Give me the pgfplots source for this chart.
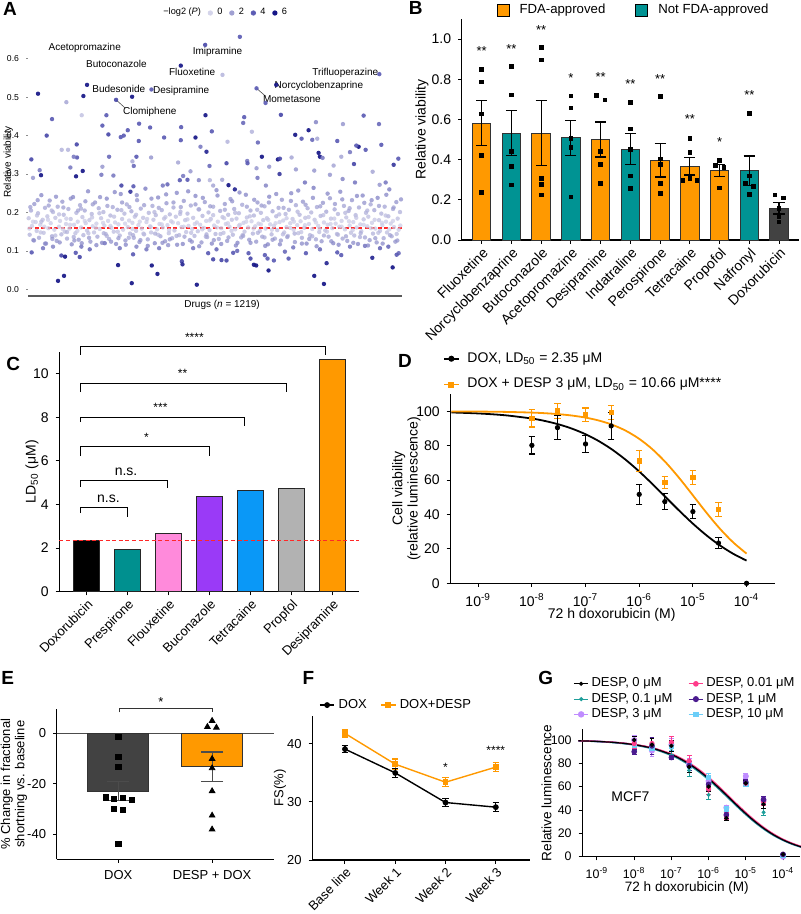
\documentclass[border=0pt]{standalone}
\usepackage{fontspec}
\setmainfont{Liberation Sans}
\usepackage{pgfplots}
\usepackage{pgfplotstable}
\pgfplotsset{compat=1.18}
\newcommand{\fs}[1]{\fontsize{#1}{#1}\selectfont}
\definecolor{fdaor}{HTML}{FF9900}
\definecolor{tealb}{HTML}{009393}
\definecolor{dgray}{HTML}{424242}
\definecolor{cpink}{HTML}{FF8ADB}
\definecolor{cpurple}{HTML}{9A3AF7}
\definecolor{cblue}{HTML}{0A98F7}
\definecolor{cgray}{HTML}{B2B2B2}
\definecolor{cteal}{HTML}{00908F}
\definecolor{gteal}{HTML}{1E9E9A}
\definecolor{gpink}{HTML}{FF3C8A}
\definecolor{gpurple}{HTML}{4B1B8F}
\definecolor{glav}{HTML}{BF8CFF}
\definecolor{gblue}{HTML}{6CCEF8}
\definecolor{pv0}{RGB}{212,212,234}
\definecolor{pv2}{RGB}{160,160,210}
\definecolor{pv4}{RGB}{92,92,180}
\definecolor{pv6}{RGB}{22,22,135}
\definecolor{redl}{RGB}{255,40,40}

\pgfplotstableread{
X v c
87 0.185 1
90 0.142 1.5
94 0.205 2
97 0.165 0.5
101 0.128 2.5
104 0.222 2.5
108 0.175 0.5
111 0.152 1
115 0.198 1.5
118 0.134 2
122 0.168 0.5
125 0.245 3
129 0.181 1
132 0.147 1
136 0.212 2
139 0.119 3
143 0.190 1
146 0.159 0.5
150 0.231 2.5
153 0.172 0.5
157 0.138 2
160 0.201 1.5
164 0.155 0.5
167 0.186 1
171 0.126 2.5
174 0.215 2
178 0.163 0.5
181 0.178 0.5
185 0.143 1.5
188 0.228 2.5
192 0.194 1.5
195 0.150 1
199 0.170 0.5
202 0.132 2
206 0.209 2
209 0.158 0.5
213 0.183 1
216 0.117 3
220 0.240 3
223 0.168 0.5
227 0.146 1
230 0.199 1.5
234 0.176 0.5
237 0.129 2.5
241 0.219 2
244 0.161 0.5
248 0.188 1
251 0.141 1.5
255 0.205 2
258 0.172 0.5
262 0.153 1
265 0.255 3
269 0.180 1
272 0.124 2.5
276 0.196 1.5
279 0.164 0.5
283 0.148 1
286 0.226 2.5
290 0.171 0.5
293 0.137 2
297 0.211 2
300 0.157 0.5
304 0.185 1
307 0.121 3
311 0.201 1.5
314 0.166 0.5
318 0.144 1.5
321 0.236 3
325 0.178 0.5
328 0.131 2
332 0.192 1.5
335 0.160 0.5
339 0.214 2
342 0.150 1
346 0.174 0.5
349 0.118 3
353 0.207 2
356 0.169 0.5
360 0.140 1.5
363 0.248 3
367 0.183 1
370 0.155 0.5
374 0.197 1.5
377 0.127 2.5
381 0.221 2
384 0.162 0.5
388 0.179 0.5
391 0.145 1.5
395 0.203 2
398 0.173 0.5
402 0.134 2
405 0.189 1
409 0.152 1
412 0.232 2.5
416 0.167 0.5
419 0.123 2.5
423 0.210 2
426 0.158 0.5
430 0.186 1
433 0.143 1.5
437 0.262 3.5
440 0.175 0.5
444 0.130 2
447 0.199 1.5
451 0.164 0.5
454 0.148 1
458 0.217 2
461 0.181 1
465 0.120 3
468 0.193 1.5
472 0.156 0.5
475 0.239 3
479 0.170 0.5
482 0.138 2
486 0.206 2
489 0.161 0.5
493 0.184 1
496 0.125 2.5
500 0.224 2.5
503 0.167 0.5
507 0.146 1
510 0.195 1.5
514 0.177 0.5
517 0.133 2
521 0.213 2
524 0.153 1
528 0.189 1
531 0.251 3
535 0.172 0.5
538 0.141 1.5
542 0.202 1.5
545 0.162 0.5
549 0.118 3
552 0.230 2.5
556 0.180 1
559 0.149 1
563 0.197 1.5
566 0.165 0.5
570 0.128 2.5
573 0.218 2
577 0.157 0.5
580 0.186 1
584 0.139 1.5
587 0.243 3
591 0.174 0.5
594 0.151 1
598 0.208 2
601 0.168 0.5
605 0.122 2.5
608 0.191 1.5
612 0.160 0.5
615 0.227 2.5
619 0.178 0.5
622 0.136 2
626 0.200 1.5
629 0.154 1
633 0.183 1
636 0.119 3
640 0.215 2
643 0.166 0.5
647 0.144 1.5
650 0.258 3
654 0.176 0.5
657 0.131 2
661 0.204 2
664 0.159 0.5
668 0.188 1
671 0.147 1
675 0.222 2.5
678 0.170 0.5
682 0.126 2.5
685 0.194 1.5
689 0.163 0.5
692 0.235 2.5
696 0.181 1
699 0.142 1.5
703 0.209 2
706 0.156 0.5
710 0.184 1
713 0.121 3
717 0.198 1.5
720 0.168 0.5
724 0.135 2
727 0.220 2
731 0.173 0.5
734 0.150 1
738 0.246 3
741 0.187 1
745 0.161 0.5
748 0.129 2.5
752 0.205 2
755 0.177 0.5
759 0.145 1.5
762 0.192 1.5
766 0.164 0.5
769 0.124 2.5
773 0.226 2.5
776 0.171 0.5
780 0.152 1
783 0.199 1.5
787 0.137 2
790 0.180 1
794 0.216 2
797 0.158 0.5
801 0.185 1
804 0.117 3
808 0.241 3
811 0.169 0.5
815 0.143 1.5
818 0.203 2
822 0.165 0.5
825 0.132 2
829 0.190 1.5
832 0.154 1
836 0.212 2
839 0.175 0.5
843 0.127 2.5
846 0.233 2.5
850 0.179 0.5
853 0.148 1
857 0.196 1.5
860 0.162 0.5
864 0.139 1.5
867 0.207 2
871 0.172 0.5
874 0.250 3
878 0.183 1
881 0.155 0.5
885 0.123 2.5
888 0.219 2
892 0.167 0.5
895 0.146 1
899 0.194 1.5
902 0.177 0.5
906 0.134 2
909 0.228 2.5
913 0.160 0.5
916 0.186 1
920 0.119 3
923 0.211 2
927 0.170 0.5
930 0.141 1.5
934 0.200 1.5
937 0.157 0.5
941 0.264 3.5
944 0.181 1
948 0.130 2
951 0.214 2
955 0.165 0.5
958 0.149 1
962 0.191 1.5
965 0.125 2.5
969 0.225 2.5
972 0.174 0.5
976 0.153 1
979 0.202 2
983 0.168 0.5
986 0.137 2
990 0.237 2.5
993 0.184 1
997 0.159 0.5
1000 0.120 3
1004 0.208 2
1007 0.171 0.5
1011 0.144 1.5
1014 0.196 1.5
1018 0.163 0.5
1021 0.254 3
1025 0.178 0.5
1028 0.132 2
1032 0.217 2
1035 0.156 0.5
1039 0.187 1
1042 0.126 2.5
1046 0.204 2
1049 0.166 0.5
1053 0.147 1
1056 0.232 2.5
1060 0.175 0.5
1063 0.140 1.5
1067 0.193 1.5
1070 0.161 0.5
1074 0.118 3
1077 0.213 2
1081 0.169 0.5
1084 0.151 1
1088 0.244 3
1091 0.182 1
1095 0.135 2
1098 0.199 1.5
1102 0.164 0.5
1105 0.189 1
1109 0.128 2.5
1112 0.221 2
1116 0.173 0.5
1119 0.145 1.5
1123 0.206 2
1126 0.158 0.5
1130 0.122 2.5
1133 0.238 3
1137 0.180 1
1140 0.152 1
1144 0.197 1.5
1147 0.167 0.5
1151 0.133 2
1154 0.215 2
1158 0.176 0.5
1161 0.148 1
1165 0.190 1.5
1168 0.260 3.5
1172 0.171 0.5
1175 0.138 2
1179 0.209 2
1182 0.162 0.5
1186 0.124 2.5
1189 0.227 2.5
1193 0.184 1
1196 0.155 0.5
1200 0.201 1.5
89 0.158 0.3
100 0.176 0.3
112 0.192 1
123 0.148 0.8
134 0.163 0.3
145 0.181 0.5
156 0.205 1.5
167 0.140 1.2
178 0.195 1
189 0.157 0.3
200 0.184 0.5
211 0.168 0.3
222 0.136 1.8
233 0.152 0.5
244 0.210 1.8
255 0.178 0.3
266 0.146 1
277 0.187 0.8
288 0.160 0.3
299 0.198 1.2
310 0.173 0.3
321 0.139 1.6
332 0.165 0.3
343 0.189 1
354 0.150 0.8
365 0.206 1.6
376 0.171 0.3
387 0.134 1.8
398 0.157 0.3
409 0.194 1.2
420 0.176 0.3
431 0.145 1
442 0.183 0.6
453 0.162 0.3
464 0.201 1.4
475 0.142 1.2
486 0.169 0.3
497 0.188 0.8
508 0.154 0.5
519 0.174 0.3
530 0.139 1.6
541 0.196 1.2
552 0.163 0.3
563 0.182 0.6
574 0.147 1
585 0.170 0.3
596 0.208 1.6
607 0.156 0.4
618 0.137 1.6
629 0.179 0.3
640 0.193 1
651 0.161 0.3
662 0.144 1.2
673 0.185 0.6
684 0.172 0.3
695 0.152 0.6
706 0.199 1.3
717 0.165 0.3
728 0.141 1.4
739 0.176 0.3
750 0.190 1
761 0.158 0.3
772 0.207 1.6
783 0.169 0.3
794 0.135 1.8
805 0.181 0.6
816 0.155 0.4
827 0.172 0.3
838 0.195 1.2
849 0.143 1.2
860 0.185 0.6
871 0.160 0.3
882 0.176 0.3
893 0.202 1.4
904 0.149 0.8
915 0.167 0.3
926 0.188 0.8
937 0.138 1.6
948 0.174 0.3
959 0.157 0.3
970 0.193 1.1
981 0.150 0.7
992 0.170 0.3
1003 0.184 0.6
1014 0.142 1.3
1025 0.163 0.3
1036 0.199 1.3
1047 0.177 0.3
1058 0.154 0.5
1069 0.186 0.8
1080 0.136 1.7
1091 0.168 0.3
1102 0.205 1.5
1113 0.159 0.3
1124 0.181 0.6
1135 0.147 1
1146 0.173 0.3
1157 0.192 1
1168 0.156 0.4
1179 0.178 0.3
1190 0.144 1.2
1201 0.166 0.3
92 0.214 2.2
103 0.127 2.6
114 0.232 2.6
125 0.176 1.2
136 0.119 2.8
147 0.218 2.2
158 0.131 2.4
169 0.241 2.8
180 0.122 2.7
191 0.213 2.2
202 0.149 1.4
213 0.236 2.7
224 0.127 2.5
235 0.205 2
246 0.120 2.8
257 0.229 2.6
268 0.134 2.3
279 0.221 2.3
290 0.115 3
301 0.240 2.8
312 0.146 1.6
323 0.217 2.2
334 0.124 2.6
345 0.253 3
356 0.133 2.3
367 0.226 2.5
378 0.116 3
389 0.214 2.2
400 0.141 1.8
411 0.245 2.9
422 0.128 2.5
433 0.219 2.3
444 0.113 3
455 0.236 2.8
466 0.145 1.7
477 0.212 2.1
488 0.121 2.7
499 0.247 2.9
510 0.130 2.4
521 0.226 2.5
532 0.116 3
543 0.214 2.2
554 0.137 2.1
565 0.255 3
576 0.124 2.6
587 0.221 2.4
598 0.112 3
609 0.238 2.8
620 0.143 1.8
631 0.216 2.2
642 0.128 2.5
653 0.244 2.9
664 0.118 2.9
675 0.207 2
686 0.135 2.2
697 0.229 2.6
708 0.114 3
719 0.252 3
730 0.139 2
741 0.215 2.2
752 0.121 2.7
763 0.233 2.7
774 0.147 1.5
785 0.218 2.3
796 0.113 3
807 0.226 2.5
818 0.129 2.4
829 0.248 2.9
840 0.117 2.9
851 0.212 2.1
862 0.136 2.2
873 0.230 2.6
884 0.145 1.7
895 0.257 3
906 0.119 2.8
917 0.220 2.3
928 0.131 2.4
939 0.238 2.8
950 0.112 3
961 0.216 2.2
972 0.140 1.9
983 0.249 2.9
994 0.125 2.6
1005 0.222 2.4
1016 0.116 3
1027 0.234 2.7
1038 0.138 2.1
1049 0.211 2.1
1060 0.121 2.7
1071 0.243 2.9
1082 0.146 1.6
1093 0.225 2.5
1104 0.114 3
1115 0.232 2.7
1126 0.133 2.3
1137 0.217 2.2
1148 0.119 2.8
1159 0.246 2.9
1170 0.141 1.9
1181 0.213 2.2
1192 0.127 2.5
1203 0.234 2.7
}\Acloud

\pgfplotstableread{
X v c
629 0.321 3.5
680 0.328 4.5
742 0.334 3
743 0.328 4
770 0.315 2
808 0.319 2
1062 0.326 4.5
1181 0.324 5
124 0.297 6
229 0.294 6
249 0.308 6
212 0.317 3
120 0.310 3
100 0.290 2
305 0.298 3
341 0.296 3
402 0.321 3.5
398 0.333 1.5
535 0.330 1.5
572 0.307 2
597 0.284 2.5
630 0.284 1
667 0.285 1.5
686 0.271 6
705 0.260 5.5
640 0.270 1.5
773 0.290 3
798 0.270 2.5
839 0.300 5
888 0.312 2
915 0.278 3
943 0.309 2
990 0.298 2
1001 0.322 1.5
1028 0.287 2.5
1065 0.278 3
1139 0.272 2
1157 0.278 3
1118 0.306 1.5
1024 0.345 1.5
308 0.319 2
365 0.270 4.5
392 0.254 5
401 0.268 4
540 0.284 4
550 0.295 3
563 0.285 4
489 0.270 3
503 0.273 3.5
315 0.120 3
360 0.107 3
410 0.111 2.5
440 0.104 3
478 0.107 3
505 0.115 2
580 0.107 3
625 0.094 4
650 0.104 3.5
700 0.095 4
712 0.100 3.5
746 0.094 4
795 0.089 4
855 0.098 3.5
880 0.109 3
918 0.094 4
960 0.104 3.5
1050 0.111 3
1095 0.113 3
1140 0.107 3.5
1165 0.111 3.5
1196 0.094 3.5
130 0.107 3
160 0.111 2.5
245 0.111 3
270 0.104 3.5
616 0.636 4.5
720 0.657 4
543 0.582 6
668 0.558 1
1138 0.560 4
262 0.532 6.5
829 0.532 6.5
455 0.520 4
770 0.523 4
797 0.485 4
115 0.509 6
251 0.503 6
397 0.501 6.5
349 0.493 4.5
200 0.487 1.5
246 0.453 0.5
320 0.453 4
617 0.453 6
843 0.454 4.5
733 0.448 4
1091 0.452 4
157 0.443 4
730 0.433 3.5
1137 0.430 3.5
1029 0.430 2
308 0.426 4
544 0.422 4
451 0.421 4
384 0.414 4
636 0.411 4
418 0.431 4
756 0.410 1
948 0.435 2.5
926 0.414 6
141 0.400 4.5
326 0.403 4.5
363 0.396 4
372 0.400 4
493 0.395 4
587 0.395 6
886 0.402 6
905 0.392 4
937 0.389 3.5
952 0.392 1.5
1012 0.386 4
1144 0.376 4
231 0.377 4.5
774 0.382 3.5
543 0.388 4
683 0.384 1
417 0.386 4
1076 0.371 6
1069 0.374 4
1097 0.363 4
602 0.371 3
186 0.363 1
205 0.363 1
1050 0.357 3
620 0.358 5.5
956 0.355 6
960 0.345 6
786 0.345 6
834 0.338 6
840 0.340 4.5
875 0.343 1.5
968 0.342 3
232 0.343 4
222 0.345 3
410 0.345 4
328 0.345 3.5
95 0.338 4.5
454 0.343 2
1195 0.340 4
96 0.096 4
175 0.022 6.5
193 0.035 6.5
185 0.088 4.5
196 0.085 6
228 0.095 4
240 0.084 4.5
355 0.063 6
396 0.016 6.5
400 0.091 4
456 0.062 6
473 0.040 6
546 0.073 4.5
548 0.065 5.5
591 0.012 6.5
640 0.078 4.5
665 0.076 4.5
680 0.075 4.5
752 0.080 4.5
762 0.064 6
769 0.062 6
806 0.049 6
803 0.080 4
822 0.075 4
866 0.080 4
943 0.035 6.5
972 0.014 6.5
980 0.068 5.5
1012 0.096 4
1024 0.089 4
1117 0.082 5.5
1178 0.057 6
1190 0.090 4
}\Aout

\pgfplotsset{
 gp/.style={scale only axis, anchor=south west, clip=false,
   axis x line*=bottom, axis y line*=left,
   axis line style={black, line width=0.55pt},
   tick style={black, line width=0.5pt},
   tick align=outside, major tick length=1.8pt, minor tick length=1pt,
   /pgf/number format/assume math mode=true,
   tick label style={font=\fs{7}},
   label style={font=\fs{7}},
 },
 gleg/.style={legend image code/.code={\draw[mark repeat=2,mark phase=2,##1] plot coordinates {(0pt,0pt) (3.6pt,0pt) (7.2pt,0pt)};}},
 eb/.style 2 args={error bars/y dir=both, error bars/y explicit,
   error bars/error bar style={#1, line width=0.6pt},
   error bars/error mark options={rotate=90, #1, mark size=#2, line width=0.6pt}},
 ylpos/.style={ylabel style={at={(axis description cs:#1,0.5)}, anchor=center}},
 xlpos/.style 2 args={xlabel style={at={(axis description cs:#1,#2)}, anchor=center}},
}

\begin{document}
\begin{tikzpicture}
\path[use as bounding box] (0,0) rectangle (400pt,-457pt);

% ---------------- A ----------------
\begin{axis}[scale only axis, anchor=south west, clip=false, at={(14pt,-148pt)}, width=187pt, height=134pt,
 xmin=85, xmax=1206, ymin=-0.0174, ymax=0.68,
 axis x line*=bottom, axis y line*=left,
 x axis line style={line width=1pt, color=black!65},
 y axis line style={draw=none},
 xtick=\empty, ytick={0,0.1,0.2,0.3,0.4,0.5,0.6},
 yticklabel style={font=\fs{4.3}, /pgf/number format/fixed, /pgf/number format/fixed zerofill, /pgf/number format/precision=1},
 tick style={black!45, line width=0.3pt}, major tick length=1pt, tick align=outside,
 /pgf/number format/assume math mode=true,
 ylabel={Relative viability}, ylabel style={font=\fs{5}}, ylpos=-0.053,
 xlabel={Drugs (\textit{n} = 1219)}, xlabel style={font=\fs{5}}, xlpos={0.519}{-0.034},
 colormap={pv}{rgb255=(212,212,234) rgb255=(160,160,210) rgb255=(92,92,180) rgb255=(22,22,135)},
 point meta min=0, point meta max=6,
 legend columns=5,
 legend style={at={(0.348,1.056)}, anchor=west, draw=none, fill=none, font=\fs{4.6}, inner sep=0pt, column sep=0.4pt, /tikz/every even column/.append style={column sep=1.6pt}},
]
\addlegendimage{empty legend}\addlegendentry{−log2 (\textit{P})\hspace{4pt}}
\addlegendimage{only marks, mark=*, mark size=1.1pt, color=pv0}\addlegendentry{0}
\addlegendimage{only marks, mark=*, mark size=1.1pt, color=pv2}\addlegendentry{2}
\addlegendimage{only marks, mark=*, mark size=1.1pt, color=pv4}\addlegendentry{4}
\addlegendimage{only marks, mark=*, mark size=1.1pt, color=pv6}\addlegendentry{6}
\addplot[redl, line width=0.7pt, dash pattern=on 2pt off 1.3pt, mark=none, forget plot] coordinates {(85,0.16) (1206,0.16)};
\addplot[scatter, only marks, mark=*, mark size=1.1pt, point meta=explicit, forget plot,
  scatter/use mapped color={draw opacity=0, fill=mapped color, fill opacity=0.72}] table[x=X, y=v, meta=c] {\Acloud};
\addplot[scatter, only marks, mark=*, mark size=1.1pt, point meta=explicit, forget plot,
  scatter/use mapped color={draw opacity=0, fill=mapped color, fill opacity=0.92}] table[x=X, y=v, meta=c] {\Aout};
\draw[black!70, line width=0.3pt] (axis cs:349,0.493) -- (axis cs:376,0.472);
\draw[black!70, line width=0.3pt] (axis cs:770,0.523) -- (axis cs:798,0.502);
\begin{scope}[font=\fs{5}]
\node at (axis cs:255,0.627) {Acetopromazine};
\node at (axis cs:350,0.586) {Butoconazole};
\node at (axis cs:653,0.618) {Imipramine};
\node at (axis cs:577,0.566) {Fluoxetine};
\node at (axis cs:1036,0.562) {Trifluoperazine};
\node at (axis cs:357,0.521) {Budesonide};
\node at (axis cs:544,0.517) {Desipramine};
\node at (axis cs:957,0.529) {Norcyclobenzaprine};
\node at (axis cs:876,0.495) {Mometasone};
\node at (axis cs:450,0.462) {Clomiphene};
\end{scope}
\end{axis}

% ---------------- B ----------------
\begin{axis}[gp, at={(230.85pt,-120pt)}, width=168.65pt, height=110.5pt,
 xmin=-0.67, xmax=10.67, ymin=0, ymax=1.1,
 ytick={0,0.2,0.4,0.6,0.8,1.0},
 yticklabel style={/pgf/number format/fixed, /pgf/number format/fixed zerofill, /pgf/number format/precision=1},
 xtick={0,...,10},
 xticklabels={Fluoxetine, Norcyclobenzaprine, Butoconazole, Acetopromazine, Desipramine, Indatraline, Perospirone, Tetracaine, Propofol, Nafronyl, Doxorubicin},
 xticklabel style={rotate=45, anchor=north east, inner sep=1pt},
 ylabel={Relative viability}, ylpos=-0.118,
 legend columns=2, legend cell align=left,
 legend style={at={(0.102,1.086)}, anchor=north west, draw=none, fill=none, font=\fs{6.6}, inner sep=0pt, column sep=3pt, /tikz/every even column/.append style={column sep=13pt}},
]
\addlegendimage{legend image code/.code={\draw[fill=fdaor, draw=black, line width=0.5pt] (0pt,-3pt) rectangle (6pt,3pt);}}\addlegendentry{FDA-approved}
\addlegendimage{legend image code/.code={\draw[fill=tealb, draw=black, line width=0.5pt] (0pt,-3pt) rectangle (6pt,3pt);}}\addlegendentry{Not FDA-approved}
\pgfplotsset{bstyle/.style={ybar, bar width=9.3pt, bar shift=0pt, draw=black!80, line width=0.5pt, forget plot, eb={black}{2.8pt}}}
\addplot[bstyle, fill=fdaor] coordinates {(0,0.582) +- (0,0.113) (2,0.532) +- (0,0.162) (4,0.500) +- (0,0.087) (6,0.398) +- (0,0.084) (7,0.367) +- (0,0.043) (8,0.345) +- (0,0.030)};
\addplot[bstyle, fill=tealb] coordinates {(1,0.532) +- (0,0.112) (3,0.508) +- (0,0.087) (5,0.452) +- (0,0.077) (9,0.345) +- (0,0.073)};
\addplot[bstyle, fill=dgray] coordinates {(10,0.157) +- (0,0.028)};
\addplot[only marks, mark=square*, mark size=0.9pt, black, forget plot] coordinates {
(0,0.850) (0,0.787) (0,0.628) (0,0.420) (0,0.237)
(1,0.865) (1,0.722) (1,0.442) (1,0.367) (1,0.275)
(2,0.958) (2,0.897) (2,0.308) (2,0.278) (2,0.225)
(3,0.717) (3,0.657) (3,0.507) (3,0.462) (3,0.215)
(3.86,0.720) (4.14,0.698) (4,0.442) (4,0.377) (4,0.283)
(5,0.685) (5,0.552) (5,0.452) (5,0.320) (5,0.258)
(6,0.715) (6,0.403) (6,0.377) (6,0.283) (6,0.232)
(7,0.507) (7,0.437) (7,0.308) (6.76,0.298) (7.24,0.298)
(8,0.395) (7.86,0.370) (8.15,0.362) (8,0.260)
(9,0.630) (9,0.320) (8.86,0.282) (9.14,0.268) (9,0.228)
(9.86,0.225) (10.14,0.210) (10,0.157) (10,0.115) (10,0.090)};
\begin{scope}[font=\fs{6.5}]
\node at (axis cs:0,0.94) {**};
\node at (axis cs:1,0.953) {**};
\node at (axis cs:2,1.047) {**};
\node at (axis cs:3,0.808) {*};
\node at (axis cs:4,0.81) {**};
\node at (axis cs:5,0.776) {**};
\node at (axis cs:6,0.803) {**};
\node at (axis cs:7,0.602) {**};
\node at (axis cs:8,0.488) {*};
\node at (axis cs:9,0.72) {**};
\end{scope}
\end{axis}

% ---------------- C ----------------
\begin{axis}[gp, at={(29.65pt,-295.85pt)}, width=149.85pt, height=119.9pt,
 xmin=-0.67, xmax=6.65, ymin=0, ymax=11,
 ytick={0,2,4,6,8,10},
 xtick={0,...,6},
 xticklabels={Doxorubicin, Prespirone, Flouxetine, Buconazole, Tetracaine, Propfol, Desipramine},
 xticklabel style={rotate=45, anchor=north east, inner sep=1pt, font=\fs{6.5}},
 ylabel={LD\textsubscript{50} (μM)}, ylpos=-0.091,
]
\pgfplotsset{cstyle/.style={ybar, bar width=13pt, bar shift=0pt, draw=black!85, line width=0.5pt, forget plot}}
\addplot[cstyle, fill=black] coordinates {(0,2.35)};
\addplot[cstyle, fill=cteal] coordinates {(1,1.95)};
\addplot[cstyle, fill=cpink] coordinates {(2,2.66)};
\addplot[cstyle, fill=cpurple] coordinates {(3,4.37)};
\addplot[cstyle, fill=cblue] coordinates {(4,4.63)};
\addplot[cstyle, fill=cgray] coordinates {(5,4.74)};
\addplot[cstyle, fill=fdaor] coordinates {(6,10.66)};
\draw[redl, line width=0.6pt, dash pattern=on 2pt off 1.3pt] (axis cs:-0.67,2.35) -- (axis cs:6.65,2.35);
\begin{scope}[black, line width=0.5pt]
\draw (axis cs:-0.15,3.6) |- (axis cs:1.0,3.87) -- (axis cs:1.0,3.44);
\draw (axis cs:-0.15,4.82) |- (axis cs:1.97,5.12) -- (axis cs:1.97,4.74);
\draw (axis cs:-0.15,6.22) |- (axis cs:2.99,6.68) -- (axis cs:2.99,6.22);
\draw (axis cs:-0.15,7.78) |- (axis cs:3.86,8.01) -- (axis cs:3.86,7.6);
\draw (axis cs:-0.15,9.16) |- (axis cs:4.88,9.56) -- (axis cs:4.88,9.16);
\draw (axis cs:-0.15,10.86) |- (axis cs:5.84,11.27) -- (axis cs:5.84,10.86);
\end{scope}
\node[font=\fs{7}] at (axis cs:0.53,4.25) {n.s.};
\node[font=\fs{7}] at (axis cs:0.96,5.5) {n.s.};
\node[font=\fs{6}] at (axis cs:1.46,7.08) {*};
\node[font=\fs{6}] at (axis cs:1.8,8.45) {***};
\node[font=\fs{6}] at (axis cs:2.34,10.0) {**};
\node[font=\fs{6}] at (axis cs:2.63,11.67) {****};
\end{axis}

% ---------------- D ----------------
\begin{axis}[gp, xmode=log, log basis x=10, at={(225.15pt,-291.65pt)}, width=162.35pt, height=94.6pt,
 xmin=3.02e-10, xmax=3.39e-4, ymin=0, ymax=110,
 ytick={0,20,40,60,80,100},
 xtick={1e-9,1e-8,1e-7,1e-6,1e-5,1e-4},
 xticklabels={10\textsuperscript{-9},10\textsuperscript{-8},10\textsuperscript{-7},10\textsuperscript{-6},10\textsuperscript{-5},10\textsuperscript{-4}},
 xlabel={72 h doxorubicin (M)}, xlpos={0.497}{-0.168},
 ylabel={Cell viability\\(relative luminescence)}, ylabel style={align=center, font=\fontsize{7}{7.6}\selectfont}, ylpos=-0.135,
 legend cell align=left,
 legend style={at={(-0.0225,1.244)}, anchor=north west, draw=none, fill=none, font=\fs{7}, inner sep=0pt, row sep=2.5pt, column sep=2pt},
]
\addlegendimage{gleg, black, mark=*, mark size=1.1pt, line width=0.8pt}\addlegendentry{DOX, LD\textsubscript{50} = 2.35 μM}
\addlegendimage{gleg, fdaor, mark=square*, mark size=1.1pt, line width=0.8pt}\addlegendentry{DOX + DESP 3 μM, LD\textsubscript{50} = 10.66 μM****}
\addplot[black, line width=0.9pt, smooth, forget plot] coordinates {(3.162e-10,99.33) (1e-9,98.76) (3.162e-9,97.70) (1e-8,95.79) (1.778e-8,94.33) (3.162e-8,92.40) (5.623e-8,89.89) (1e-7,86.67) (1.778e-7,82.62) (3.162e-7,77.66) (5.623e-7,71.76) (1e-6,65.01) (1.778e-6,57.60) (3.162e-6,49.85) (5.623e-6,42.08) (1e-5,34.69) (1.778e-5,27.97) (3.162e-5,22.11) (5.623e-5,17.19) (1e-4,13.18)};
\addplot[fdaor, line width=0.9pt, smooth, forget plot] coordinates {(3.162e-10,99.93) (1e-9,99.85) (3.162e-9,99.66) (1e-8,99.25) (1.778e-8,98.88) (3.162e-8,98.33) (5.623e-8,97.52) (1e-7,96.34) (1.778e-7,94.62) (3.162e-7,92.16) (5.623e-7,88.70) (1e-6,83.99) (1.778e-6,77.82) (3.162e-6,70.10) (5.623e-6,61.04) (1e-5,51.15) (1.778e-5,41.17) (3.162e-5,31.86) (5.623e-5,23.82) (1e-4,17.28)};
\addplot[only marks, fdaor, mark=square*, mark size=1.1pt, forget plot, eb={fdaor}{1.6pt}] coordinates {
(1e-8,95.9) +- (0,5) (3e-8,100.2) +- (0,4.5) (1e-7,97.9) +- (0,4) (3e-7,99.4) +- (0,4) (1e-6,71.1) +- (0,6) (3e-6,58.5) +- (0,3.5) (1e-5,61.4) +- (0,4) (3e-5,42.8) +- (0,4)};
\addplot[only marks, black, mark=*, mark size=1.1pt, forget plot, eb={black}{1.6pt}] coordinates {
(1e-8,80.2) +- (0,5) (3e-8,90.5) +- (0,7) (1e-7,81) +- (0,5) (3e-7,91.5) +- (0,7.8) (1e-6,51.7) +- (0,5.8) (3e-6,47.5) +- (0,4.5) (1e-5,41.7) +- (0,4) (3e-5,23.4) +- (0,3) (1e-4,0) +- (0,0)};
\end{axis}

% ---------------- E ----------------
\begin{axis}[gp, at={(28.35pt,-429.65pt)}, width=108.65pt, height=75.15pt,
 xmin=-0.657, xmax=1.66, ymin=-50, ymax=9.66,
 ytick={-40,-20,0}, xtick={0,1}, xticklabels={DOX, DESP + DOX},
 tick label style={font=\fs{6.5}},
 ylabel={\% Change in fractional\\shortning vs. baseline}, ylabel style={align=center, font=\fontsize{6.5}{7.2}\selectfont}, ylpos=-0.197,
]
\addplot[black!70, line width=0.6pt, forget plot] coordinates {(-0.657,0) (1.66,0)};
\pgfplotsset{estyle/.style={ybar, bar width=30.35pt, bar shift=0pt, draw=black!80, line width=0.5pt, forget plot, eb={black!70}{5.5pt}}}
\addplot[estyle, fill=dgray] coordinates {(0,-23.0) +- (0,3.8)};
\addplot[estyle, fill=fdaor] coordinates {(1,-13.3) +- (0,5.9)};
\addplot[only marks, mark=square*, mark size=1.3pt, black, forget plot] coordinates {
(0,-1.3) (0,-9.3) (0,-13.2) (-0.132,-25.4) (-0.043,-26.1) (0.05,-25.7) (0.142,-26.5) (-0.046,-29.9) (0.05,-30.3) (0,-44.0)};
\addplot[only marks, mark=triangle*, mark size=1.6pt, black, forget plot] coordinates {
(1,5.0) (0.95,2.6) (1.046,2.3) (1,-10.1) (1,-13.8) (1,-22.9) (1,-32.6) (1,-38.1)};
\draw[black!80, line width=0.5pt] (axis cs:0.01,8.3) |- (axis cs:1,9.7) -- (axis cs:1,8.3);
\node[font=\fs{6.5}] at (axis cs:0.455,12.6) {*};
\end{axis}

% ---------------- F ----------------
\begin{axis}[gp, at={(156.15pt,-430pt)}, width=108.85pt, height=72pt,
 xmin=-0.65, xmax=3.68, ymin=20, ymax=44.8,
 ytick={20,30,40}, xtick={0,1,2,3}, xticklabels={Base line, Week 1, Week 2, Week 3},
 xticklabel style={rotate=45, anchor=north east, inner sep=1pt, font=\fs{6.5}},
 yticklabel style={font=\fs{6.5}},
 ylabel={FS(\%)}, ylabel style={font=\fs{6.5}}, ylpos=-0.148,
 legend columns=2, legend cell align=left,
 legend style={at={(0.03,1.076)}, anchor=west, draw=none, fill=none, font=\fs{6.5}, inner sep=0pt, column sep=1pt, nodes={inner sep=0.8pt}, /tikz/every even column/.append style={column sep=6pt}},
]
\addlegendimage{gleg, black, mark=*, mark size=1.1pt, line width=0.7pt}\addlegendentry{DOX}
\addlegendimage{gleg, fdaor, mark=square*, mark size=1.1pt, line width=0.7pt}\addlegendentry{DOX+DESP}
\addplot[fdaor, line width=0.7pt, mark=square*, mark size=1.1pt, forget plot, eb={fdaor}{1.6pt}] coordinates {
(0,41.8) +- (0,0.6) (1,36.5) +- (0,0.9) (2,33.4) +- (0,0.8) (3,36.0) +- (0,0.8)};
\addplot[black, line width=0.7pt, mark=*, mark size=1.1pt, forget plot, eb={black}{1.6pt}] coordinates {
(0,39.1) +- (0,0.6) (1,35.0) +- (0,0.8) (2,29.9) +- (0,0.7) (3,29.1) +- (0,0.8)};
\node[font=\fs{6}] at (axis cs:2,36.0) {*};
\node[font=\fs{6}] at (axis cs:3,38.8) {****};
\end{axis}

% ---------------- G ----------------
\begin{axis}[gp, xmode=log, log basis x=10, at={(291.15pt,-428.35pt)}, width=108.85pt, height=63.7pt,
 xmin=4.03e-10, xmax=2.864e-4, ymin=0, ymax=109.2,
 ytick={0,20,40,60,80,100},
 xtick={1e-9,1e-8,1e-7,1e-6,1e-5,1e-4},
 xticklabels={10\textsuperscript{-9},10\textsuperscript{-8},10\textsuperscript{-7},10\textsuperscript{-6},10\textsuperscript{-5},10\textsuperscript{-4}},
 tick label style={font=\fs{6.2}},
 xlabel={72 h doxorubicin (M)}, xlpos={0.48}{-0.248},
 ylabel={Relative luminescence}, ylpos=-0.164,
 label style={font=\fs{6.8}},
 legend columns=2, legend cell align=left,
 legend style={at={(-0.043,1.42)}, anchor=north west, draw=none, fill=none, font=\fs{6.5}, inner sep=0pt, column sep=0.5pt, row sep=0pt, nodes={inner sep=0.8pt}, /tikz/every even column/.append style={column sep=7pt}},
]
\addlegendimage{gleg, black, mark=*, mark size=0.7pt, line width=0.6pt}\addlegendentry{DESP, 0 μM}
\addlegendimage{gleg, gpink, mark=*, mark size=1.1pt, line width=0.6pt}\addlegendentry{DESP, 0.01 μM}
\addlegendimage{gleg, gteal, mark=*, mark size=0.7pt, line width=0.6pt}\addlegendentry{DESP, 0.1 μM}
\addlegendimage{gleg, gpurple, mark=*, mark size=1.2pt, line width=0.6pt}\addlegendentry{DESP, 1 μM}
\addlegendimage{gleg, glav, mark=*, mark size=1.3pt, line width=0.6pt}\addlegendentry{DESP, 3 μM}
\addlegendimage{gleg, gblue, mark=square*, mark size=1.1pt, line width=0.6pt}\addlegendentry{DESP, 10 μM}
\pgfplotsset{gerr/.style={only marks, forget plot, error bars/y dir=both, error bars/y explicit, error bars/error bar style={#1, line width=0.5pt}, error bars/error mark options={rotate=90, #1, mark size=1.2pt, line width=0.5pt}}}
\addplot[gblue, line width=0.7pt, smooth, forget plot] coordinates {(3.162e-10,99.37) (1e-9,98.83) (3.162e-9,97.85) (1e-8,96.07) (3.162e-8,92.92) (1e-7,87.57) (1.778e-7,83.78) (3.162e-7,79.10) (5.623e-7,73.50) (1e-6,67.02) (1.778e-6,59.83) (3.162e-6,52.19) (5.623e-6,44.44) (1e-5,36.95) (1.778e-5,30.05) (3.162e-5,23.94) (5.623e-5,18.74) (1e-4,14.46) (1.778e-4,11.02) (3.162e-4,8.32)};
\addplot[glav, line width=0.7pt, smooth, forget plot] coordinates {(3.162e-10,99.37) (1e-9,98.83) (3.162e-9,97.85) (1e-8,96.07) (3.162e-8,92.92) (1e-7,87.57) (1.778e-7,83.78) (3.162e-7,79.10) (5.623e-7,73.50) (1e-6,67.02) (1.778e-6,59.83) (3.162e-6,52.19) (5.623e-6,44.44) (1e-5,36.95) (1.778e-5,30.05) (3.162e-5,23.94) (5.623e-5,18.74) (1e-4,14.46) (1.778e-4,11.02) (3.162e-4,8.32)};
\addplot[gteal, line width=0.7pt, smooth, forget plot] coordinates {(3.162e-10,99.3) (1e-9,98.7) (3.162e-9,97.6) (1e-8,95.7) (3.162e-8,92.4) (1e-7,86.8) (1.778e-7,82.9) (3.162e-7,78.1) (5.623e-7,72.4) (1e-6,65.9) (1.778e-6,58.7) (3.162e-6,51.1) (5.623e-6,43.4) (1e-5,36.0) (1.778e-5,29.2) (3.162e-5,23.2) (5.623e-5,18.1) (1e-4,14.0) (1.778e-4,10.6) (3.162e-4,8.0)};
\addplot[gpurple, line width=0.7pt, smooth, forget plot] coordinates {(3.162e-10,99.37) (1e-9,98.83) (3.162e-9,97.85) (1e-8,96.07) (3.162e-8,92.92) (1e-7,87.57) (1.778e-7,83.78) (3.162e-7,79.10) (5.623e-7,73.50) (1e-6,67.02) (1.778e-6,59.83) (3.162e-6,52.19) (5.623e-6,44.44) (1e-5,36.95) (1.778e-5,30.05) (3.162e-5,23.94) (5.623e-5,18.74) (1e-4,14.46) (1.778e-4,11.02) (3.162e-4,8.32)};
\addplot[gpink, line width=0.7pt, smooth, forget plot] coordinates {(3.162e-10,99.4) (1e-9,98.9) (3.162e-9,98.0) (1e-8,96.3) (3.162e-8,93.3) (1e-7,88.2) (1.778e-7,84.5) (3.162e-7,80.0) (5.623e-7,74.5) (1e-6,68.1) (1.778e-6,60.9) (3.162e-6,53.2) (5.623e-6,45.4) (1e-5,37.9) (1.778e-5,30.9) (3.162e-5,24.7) (5.623e-5,19.4) (1e-4,15.0) (1.778e-4,11.5) (3.162e-4,8.7)};
\addplot[black, line width=0.6pt, smooth, forget plot] coordinates {(3.162e-10,99.37) (1e-9,98.83) (3.162e-9,97.85) (1e-8,96.07) (3.162e-8,92.92) (1e-7,87.57) (1.778e-7,83.78) (3.162e-7,79.10) (5.623e-7,73.50) (1e-6,67.02) (1.778e-6,59.83) (3.162e-6,52.19) (5.623e-6,44.44) (1e-5,36.95) (1.778e-5,30.05) (3.162e-5,23.94) (5.623e-5,18.74) (1e-4,14.46) (1.778e-4,11.02) (3.162e-4,8.32)};
\addplot[gerr=gteal, gteal, mark=*, mark size=0.8pt] coordinates {(1e-8,95) +- (0,4) (3e-8,93) +- (0,5) (1e-7,93) +- (0,5) (3e-7,74) +- (0,5) (1e-6,53) +- (0,4) (3e-6,36) +- (0,3) (1e-5,63) +- (0,2) (3e-5,38) +- (0,3) (1e-4,1) +- (0,1)};
\addplot[gerr=glav, glav, mark=*, mark size=1.3pt] coordinates {(1e-8,100) +- (0,4) (3e-8,91) +- (0,5) (1e-7,96) +- (0,5) (3e-7,80) +- (0,4) (1e-6,65) +- (0,3) (3e-6,42) +- (0,2) (1e-5,69) +- (0,2) (3e-5,48) +- (0,3) (1e-4,0) +- (0,1)};
\addplot[gerr=gblue, gblue, mark=square*, mark size=1.1pt] coordinates {(1e-8,96) +- (0,3) (3e-8,93) +- (0,4) (1e-7,95) +- (0,4) (3e-7,78) +- (0,4) (1e-6,68) +- (0,3) (3e-6,41) +- (0,2) (1e-5,62) +- (0,2) (3e-5,47) +- (0,3) (1e-4,1) +- (0,1)};
\addplot[gerr=gpink, gpink, mark=*, mark size=1.1pt] coordinates {(1e-8,97) +- (0,4) (3e-8,97) +- (0,5) (1e-7,98) +- (0,5) (3e-7,82) +- (0,5) (1e-6,58) +- (0,5) (3e-6,35) +- (0,3) (1e-5,63) +- (0,2) (3e-5,47) +- (0,3) (1e-4,2) +- (0,1)};
\addplot[gerr=gpurple, gpurple, mark=*, mark size=1.2pt] coordinates {(1e-8,90) +- (0,2) (3e-8,95) +- (0,7) (1e-7,85) +- (0,2) (3e-7,78) +- (0,4) (1e-6,62) +- (0,3) (3e-6,36) +- (0,3) (1e-5,64) +- (0,2) (3e-5,49) +- (0,3) (1e-4,2) +- (0,1)};
\addplot[gerr=black, black, mark=*, mark size=0.9pt] coordinates {(1e-8,100) +- (0,3) (3e-8,96) +- (0,5) (1e-7,95) +- (0,5) (3e-7,77) +- (0,5) (1e-6,60) +- (0,4) (3e-6,33) +- (0,2) (1e-5,63) +- (0,2) (3e-5,45) +- (0,4) (1e-4,2) +- (0,1)};
\node[font=\fs{7}] at (axis cs:7.94e-9,51.4) {MCF7};
\end{axis}

% panel letters
\begin{scope}[font=\fs{9.5}\bfseries]
\node at (5pt,-4.7pt) {A};
\node at (207.9pt,-4pt) {B};
\node at (6.65pt,-182pt) {C};
\node at (202.5pt,-180.4pt) {D};
\node at (3.9pt,-339.2pt) {E};
\node at (154.2pt,-339.2pt) {F};
\node at (272.9pt,-338.8pt) {G};
\end{scope}
\end{tikzpicture}
\end{document}
